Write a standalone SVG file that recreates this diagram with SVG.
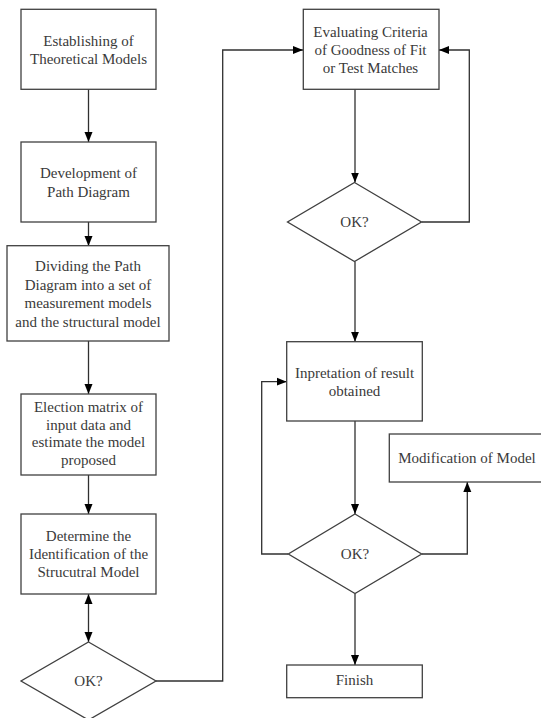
<svg xmlns="http://www.w3.org/2000/svg" width="541" height="718" viewBox="0 0 541 718">
<style>
.box{fill:#fff;stroke:#404040;stroke-width:1.3}
.lbl{font-family:"Liberation Serif","Times New Roman",serif;font-size:15px;fill:#3a3a3a;text-anchor:middle}
.cn{fill:none;stroke:#303030;stroke-width:1.3}
</style>
<defs>
<marker id="ah" viewBox="0 0 10 10" refX="10" refY="5" markerWidth="10" markerHeight="10" markerUnits="userSpaceOnUse" orient="auto-start-reverse">
<path d="M0,1 L10,5 L0,9 Z" fill="#000"/>
</marker>
</defs>
<rect width="541" height="718" fill="#fff"/>
<g id="connectors">
<line class="cn" x1="88.5" y1="89" x2="88.5" y2="142" marker-end="url(#ah)"/>
<line class="cn" x1="88.5" y1="222" x2="88.5" y2="246" marker-end="url(#ah)"/>
<line class="cn" x1="88.5" y1="341" x2="88.5" y2="394" marker-end="url(#ah)"/>
<line class="cn" x1="88.5" y1="475" x2="88.5" y2="514" marker-end="url(#ah)"/>
<line class="cn" x1="88.5" y1="594" x2="88.5" y2="642" marker-start="url(#ah)" marker-end="url(#ah)"/>
<polyline class="cn" points="156,681 222.7,681 222.7,50 303,50" marker-end="url(#ah)"/>
<line class="cn" x1="355" y1="89" x2="355" y2="182.5" marker-end="url(#ah)"/>
<polyline class="cn" points="421.5,222 469.3,222 469.3,50 439,50" marker-end="url(#ah)"/>
<line class="cn" x1="355" y1="261.5" x2="355" y2="341.7" marker-end="url(#ah)"/>
<line class="cn" x1="355" y1="421" x2="355" y2="514" marker-end="url(#ah)"/>
<polyline class="cn" points="288,554 261.7,554 261.7,381.7 286.7,381.7" marker-end="url(#ah)"/>
<polyline class="cn" points="422,554 467.3,554 467.3,482" marker-end="url(#ah)"/>
<line class="cn" x1="355" y1="593.5" x2="355" y2="665" marker-end="url(#ah)"/>
</g>
<g id="n1"><rect class="box" x="21" y="9.3" width="135" height="80"/>
<text class="lbl" x="88.5" y="46">Establishing of</text><text class="lbl" x="88.5" y="63.5">Theoretical Models</text></g>
<g id="n2"><rect class="box" x="21" y="142" width="135" height="80"/>
<text class="lbl" x="88.5" y="178">Development of</text><text class="lbl" x="88.5" y="197">Path Diagram</text></g>
<g id="n3"><rect class="box" x="7" y="245.7" width="162" height="95.3"/>
<text class="lbl" x="88" y="271">Dividing the Path</text><text class="lbl" x="88" y="289.5">Diagram into a set of</text><text class="lbl" x="88" y="308">measurement models</text><text class="lbl" x="88" y="326.5">and the structural model</text></g>
<g id="n4"><rect class="box" x="21" y="394" width="135" height="81"/>
<text class="lbl" x="88.5" y="412">Election matrix of</text><text class="lbl" x="88.5" y="429.5">input data and</text><text class="lbl" x="88.5" y="447">estimate the model</text><text class="lbl" x="88.5" y="465">proposed</text></g>
<g id="n5"><rect class="box" x="21" y="514" width="135" height="80"/>
<text class="lbl" x="88.5" y="541">Determine the</text><text class="lbl" x="88.5" y="558.5">Identification of the</text><text class="lbl" x="88.5" y="577">Strucutral Model</text></g>
<g id="d1"><polygon class="box" points="88.5,642 156,681 88.5,720 21,681"/>
<text class="lbl" x="88.5" y="686">OK?</text></g>
<g id="n6"><rect class="box" x="303.3" y="9.3" width="135.7" height="80"/>
<text class="lbl" x="370.5" y="37">Evaluating Criteria</text><text class="lbl" x="370.5" y="55">of Goodness of Fit</text><text class="lbl" x="370.5" y="73">or Test Matches</text></g>
<g id="d2"><polygon class="box" points="354.5,182.5 421.5,222 354.5,261.5 287.5,222"/>
<text class="lbl" x="354.5" y="227">OK?</text></g>
<g id="n7"><rect class="box" x="286.7" y="341.7" width="135.6" height="79.3"/>
<text class="lbl" x="354.5" y="378">Inpretation of result</text><text class="lbl" x="354.5" y="395.5">obtained</text></g>
<g id="d3"><polygon class="box" points="355,514 421.7,554 355,593.5 288.3,554"/>
<text class="lbl" x="355" y="559">OK?</text></g>
<g id="n8"><rect class="box" x="389.3" y="434" width="160" height="48"/>
<text class="lbl" x="467" y="463">Modification of Model</text></g>
<g id="n9"><rect class="box" x="286.7" y="665" width="135.6" height="32.7"/>
<text class="lbl" x="354.5" y="685">Finish</text></g>
</svg>
